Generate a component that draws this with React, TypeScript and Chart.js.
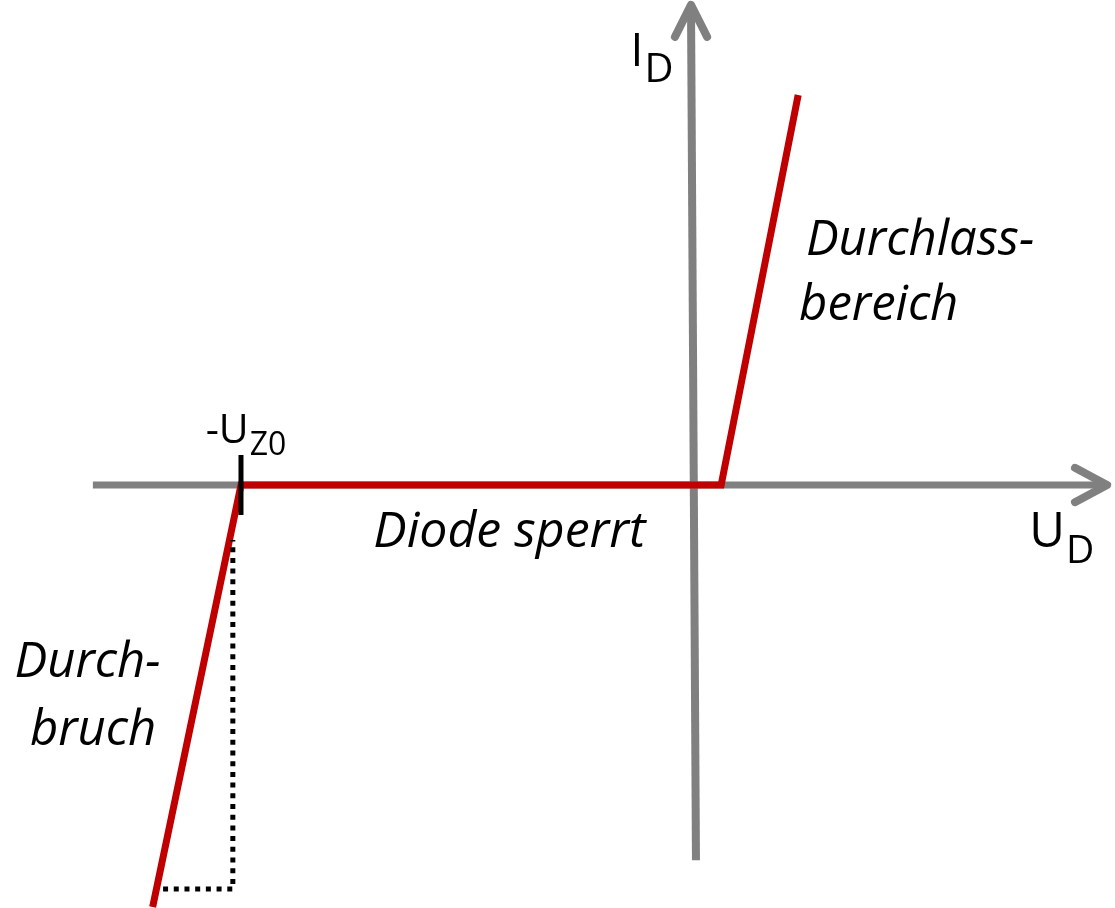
import React, { useEffect, useRef } from "react";
import { Chart, registerables } from "chart.js";

Chart.register(...registerables);

// Diode characteristic (schematic units: U in V, I in mA)
const kennlinieU = [-11.95, -10, 0.6, 2.3];
const kennlinieI = [-10.82, 0, 0, 10.0];

// Axes
const uAxisU = [-13.27, 9.12];
const uAxisI = [0, 0];
const iAxisU = [0.044, -0.066];
const iAxisI = [-9.62, 12.31];
const uArrowU = [8.41, 9.12, 8.41];
const uArrowI = [0.44, 0, -0.44];
const iArrowU = [-0.42, -0.066, 0.29];
const iArrowI = [11.49, 12.31, 11.49];

// Breakdown helper triangle (dotted) and -U_Z0 tick
const dottedU = [-11.72, -10.18, -10.18];
const dottedI = [-10.36, -10.36, -1.41];
const tickU = [-10, -10];
const tickI = [0.77, -0.77];

// Text labels
const labelTexts = ["Diode sperrt", "Durchlass-", "bereich", "Durch-", "bruch"];
const labelU = [-7.08, 2.47, 2.32, -15.0, -14.66];
const labelI = [-1.59, 5.9, 4.23, -4.92, -6.67];

const symMain = ["I", "U", "-U"];
const symSub = ["D", "D", "Z0"];
const symU = [-1.4, 7.4, -10.78];
const symI = [10.75, -1.59, 1.08];

const X_MIN = -15.32;
const X_MAX = 9.294;
const Y_MIN = -10.846;
const Y_MAX = 12.436;

const toPts = (xs: number[], ys: number[]) => xs.map((x, i) => ({ x, y: ys[i] }));

const GRAY = "#808080";
const RED = "#c00000";

const textPlugin = {
  id: "diodeText",
  afterDatasetsDraw(chart: any) {
    const { ctx, scales } = chart;
    const xs = scales.x;
    const ys = scales.y;
    ctx.save();
    ctx.fillStyle = "#000";
    ctx.textBaseline = "alphabetic";
    ctx.textAlign = "left";
    labelTexts.forEach((t, i) => {
      ctx.font = i === 0 ? "italic 50px 'Open Sans'" : "italic 49px 'Open Sans'";
      ctx.fillText(t, xs.getPixelForValue(labelU[i]), ys.getPixelForValue(labelI[i]));
    });
    const mainSizes = [46, 49, 41];
    const subSizes = [40, 39, 32];
    const subDrop = [16, 16, 12];
    symMain.forEach((t, i) => {
      const px = xs.getPixelForValue(symU[i]);
      const py = ys.getPixelForValue(symI[i]);
      ctx.font = `${mainSizes[i]}px 'Open Sans'`;
      ctx.fillText(t, px, py);
      const w = ctx.measureText(t).width;
      ctx.font = `${subSizes[i]}px 'Open Sans'`;
      ctx.fillText(symSub[i], px + w + 1, py + subDrop[i]);
    });
    ctx.restore();
  },
};

export default function App() {
  const ref = useRef<HTMLCanvasElement | null>(null);
  useEffect(() => {
    if (!ref.current) return;
    const chart = new Chart(ref.current, {
      type: "scatter",
      data: {
        datasets: [
          {
            data: toPts(tickU, tickI),
            showLine: true,
            borderColor: "#000",
            borderWidth: 5,
            pointRadius: 0,
            order: 1,
          },
          {
            data: toPts(dottedU, dottedI),
            showLine: true,
            borderColor: "#000",
            borderWidth: 5,
            borderDash: [5, 5.7],
            pointRadius: 0,
            order: 1,
          },
          {
            data: toPts(kennlinieU, kennlinieI),
            showLine: true,
            borderColor: RED,
            borderWidth: 7,
            borderJoinStyle: "miter",
            pointRadius: 0,
            order: 2,
          },
          {
            data: toPts(uAxisU, uAxisI),
            showLine: true,
            borderColor: GRAY,
            borderWidth: 7,
            pointRadius: 0,
            order: 3,
          },
          {
            data: toPts(iAxisU, iAxisI),
            showLine: true,
            borderColor: GRAY,
            borderWidth: 8,
            pointRadius: 0,
            order: 3,
          },
          {
            data: toPts(uArrowU, uArrowI),
            showLine: true,
            borderColor: GRAY,
            borderWidth: 8,
            borderCapStyle: "round",
            borderJoinStyle: "round",
            pointRadius: 0,
            order: 3,
          },
          {
            data: toPts(iArrowU, iArrowI),
            showLine: true,
            borderColor: GRAY,
            borderWidth: 8,
            borderCapStyle: "round",
            borderJoinStyle: "round",
            pointRadius: 0,
            order: 3,
          },
        ],
      } as any,
      options: {
        animation: false,
        responsive: false,
        devicePixelRatio: 1,
        layout: { padding: 0 },
        events: [],
        plugins: {
          legend: { display: false },
          tooltip: { enabled: false },
          title: { display: false },
        },
        scales: {
          x: { type: "linear", min: X_MIN, max: X_MAX, display: false },
          y: { type: "linear", min: Y_MIN, max: Y_MAX, display: false },
        },
        elements: { line: { tension: 0 } },
      } as any,
      plugins: [textPlugin],
    });
    return () => chart.destroy();
  }, []);
  return (
    <div style={{ position: "fixed", left: 0, top: 0, width: 1115, height: 908, background: "#fff" }}>
      <canvas ref={ref} width={1115} height={908} style={{ width: 1115, height: 908, display: "block" }} />
    </div>
  );
}
